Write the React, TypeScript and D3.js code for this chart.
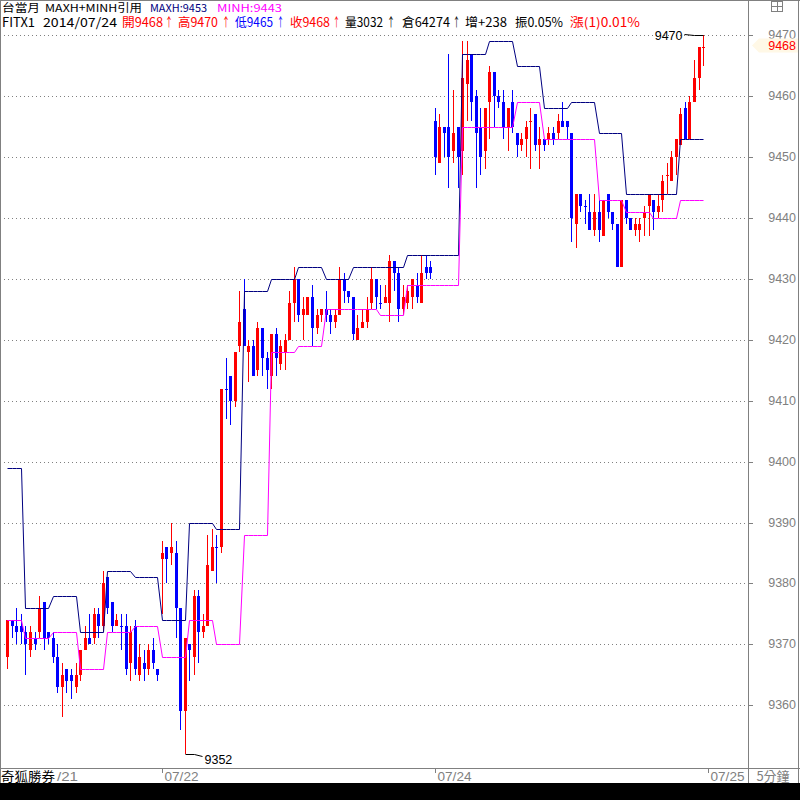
import * as d3 from "d3";

// 5-minute bars, TX front month, 07/21 (tail) .. 07/22 .. 07/24
const opens = [
  9368, 9374, 9373, 9373, 9372, 9369, 9371, 9372, 9377, 9372,
  9371, 9368, 9363, 9366, 9365, 9363, 9365, 9369, 9371, 9371,
  9375, 9373, 9381, 9377, 9373, 9373, 9373, 9367, 9373, 9365,
  9367, 9366, 9369, 9366, 9384, 9386, 9385, 9385, 9376, 9359,
  9370, 9368, 9378, 9372, 9373, 9382, 9386, 9386, 9412, 9414,
  9410, 9419, 9425, 9418, 9419, 9415, 9422, 9417, 9414, 9421,
  9416, 9418, 9420, 9426, 9430, 9424, 9424, 9427, 9422, 9424,
  9425, 9424, 9423, 9424, 9430, 9428, 9427, 9420, 9422, 9423,
  9426, 9430, 9426, 9426, 9426, 9433, 9431, 9425, 9426, 9427,
  9429, 9426, 9432, 9432, 9456, 9449, 9455, 9455, 9451, 9455,
  9451, 9462, 9467, 9460, 9455, 9451, 9459, 9464, 9460, 9459,
  9455, 9459, 9454, 9452, 9453, 9456, 9457, 9452, 9453, 9453,
  9454, 9454, 9456, 9456, 9454, 9439, 9444, 9442, 9441, 9438,
  9441, 9437, 9444, 9441, 9439, 9432, 9443, 9440, 9438, 9438,
  9440, 9442, 9443, 9441, 9443, 9447, 9446, 9450, 9452, 9458,
  9453, 9459, 9463, 9468,
];
const highs = [
  9374, 9374, 9376, 9375, 9373, 9373, 9372, 9378, 9377, 9372,
  9372, 9370, 9367, 9366, 9366, 9367, 9369, 9373, 9375, 9376,
  9376, 9382, 9381, 9377, 9375, 9375, 9375, 9373, 9374, 9370,
  9369, 9370, 9371, 9366, 9387, 9386, 9390, 9387, 9376, 9371,
  9370, 9379, 9379, 9375, 9388, 9389, 9388, 9412, 9417, 9414,
  9418, 9428, 9430, 9420, 9420, 9423, 9422, 9418, 9421, 9422,
  9420, 9421, 9428, 9432, 9430, 9427, 9427, 9429, 9425, 9425,
  9428, 9425, 9425, 9432, 9431, 9428, 9427, 9424, 9425, 9427,
  9432, 9430, 9429, 9429, 9434, 9433, 9432, 9429, 9429, 9430,
  9431, 9434, 9434, 9433, 9458, 9457, 9455, 9467, 9461, 9455,
  9469, 9469, 9467, 9461, 9458, 9458, 9465, 9464, 9461, 9461,
  9458, 9461, 9454, 9454, 9456, 9458, 9457, 9455, 9453, 9455,
  9455, 9457, 9459, 9456, 9454, 9444, 9444, 9443, 9444, 9444,
  9443, 9443, 9444, 9441, 9439, 9443, 9443, 9440, 9440, 9440,
  9442, 9444, 9443, 9444, 9447, 9449, 9451, 9453, 9458, 9459,
  9460, 9466, 9468, 9470,
];
const lows = [
  9366, 9371, 9370, 9370, 9365, 9368, 9369, 9371, 9369, 9370,
  9367, 9362, 9358, 9362, 9361, 9362, 9364, 9369, 9370, 9370,
  9371, 9372, 9375, 9372, 9373, 9369, 9365, 9364, 9365, 9364,
  9364, 9365, 9366, 9364, 9375, 9380, 9383, 9371, 9356, 9352,
  9364, 9365, 9367, 9371, 9373, 9382, 9380, 9385, 9407, 9406,
  9409, 9418, 9419, 9413, 9414, 9414, 9414, 9412, 9412, 9414,
  9415, 9415, 9420, 9423, 9423, 9420, 9424, 9419, 9421, 9423,
  9423, 9421, 9422, 9424, 9426, 9426, 9420, 9420, 9422, 9422,
  9425, 9425, 9425, 9426, 9423, 9428, 9423, 9424, 9425, 9425,
  9426, 9426, 9430, 9430, 9447, 9449, 9450, 9445, 9449, 9445,
  9447, 9456, 9456, 9445, 9447, 9448, 9453, 9455, 9458, 9453,
  9451, 9454, 9450, 9451, 9450, 9448, 9451, 9448, 9451, 9452,
  9452, 9453, 9455, 9453, 9436, 9435, 9441, 9439, 9438, 9437,
  9436, 9437, 9440, 9438, 9432, 9432, 9439, 9438, 9437, 9436,
  9437, 9437, 9438, 9440, 9441, 9444, 9446, 9447, 9452, 9453,
  9453, 9459, 9461, 9465,
];
const closes = [
  9374, 9373, 9372, 9372, 9370, 9372, 9370, 9376, 9371, 9371,
  9368, 9363, 9365, 9364, 9364, 9365, 9369, 9371, 9370, 9375,
  9373, 9380, 9376, 9373, 9374, 9373, 9366, 9372, 9366, 9368,
  9366, 9369, 9367, 9365, 9385, 9384, 9386, 9376, 9359, 9371,
  9369, 9378, 9372, 9373, 9383, 9386, 9386, 9412, 9412, 9410,
  9418, 9423, 9419, 9419, 9414, 9422, 9417, 9415, 9421, 9417,
  9419, 9420, 9426, 9430, 9424, 9425, 9427, 9422, 9424, 9425,
  9424, 9423, 9424, 9430, 9428, 9427, 9421, 9422, 9423, 9425,
  9430, 9427, 9426, 9427, 9433, 9431, 9425, 9427, 9428, 9430,
  9427, 9431, 9431, 9431, 9450, 9455, 9454, 9450, 9454, 9450,
  9463, 9466, 9459, 9454, 9450, 9458, 9464, 9460, 9459, 9455,
  9458, 9455, 9452, 9453, 9455, 9456, 9452, 9453, 9452, 9454,
  9453, 9456, 9455, 9455, 9440, 9444, 9442, 9442, 9438, 9441,
  9438, 9443, 9441, 9439, 9432, 9443, 9440, 9438, 9439, 9439,
  9441, 9444, 9441, 9442, 9446, 9447, 9450, 9453, 9457, 9453,
  9459, 9463, 9468, 9468,
];
// doji bars (open == close) that are drawn in the "up" colour
const redDoji = [115, 145, 153];

// MAXH / MINH come from the 30-minute bars: one value per 6 bars
// (first entry covers the 4 bars before the first 30-minute boundary)
const maxhSteps = [
  9399, 9376, 9378, 9372, 9382, 9381, 9374, 9390, 9389, 9428,
  9430, 9432, 9430, 9432, 9432, 9434, 9434, 9467, 9469, 9465,
  9458, 9459, 9454, 9444, 9444, 9453,
];
const minhSteps = [
  9374, 9371, 9372, 9366, 9372, 9373, 9368, 9374, 9370, 9388,
  9418, 9419, 9425, 9425, 9424, 9429, 9429, 9455, 9455, 9459,
  9453, 9453, 9443, 9441, 9440, 9443,
];

const yTicks = [9470, 9460, 9450, 9440, 9430, 9420, 9410, 9400, 9390, 9380, 9370, 9360];
const dateLabels = ["07/22", "07/24", "07/25"];
const dateBars = [34, 94, 154];

const RED = "#ff0000";
const BLUE = "#0000ff";
const NAVY = "#000080";
const MAGENTA = "#ff00ff";
const GRAY = "#808080";
const FONT = "'Liberation Sans', 'Noto Sans CJK TC', sans-serif";
const CJK = "'Noto Sans CJK TC', 'Liberation Sans', sans-serif";

// header text runs: [text, colour, x, width]
const header1: [string, string, number, number][] = [
  ["台當月", "#000", 2, 38],
  ["MAXH+MINH引用", "#000", 45, 97],
  [`MAXH:${maxhSteps[maxhSteps.length - 1]}`, NAVY, 150, 57],
  [`MINH:${minhSteps[minhSteps.length - 1]}`, MAGENTA, 217, 65],
];

const stepIndex = (i: number) => (i < 4 ? 0 : Math.floor((i - 4) / 6) + 1);

export default function App() {
  const n = opens.length;
  const last = n - 1;
  const PLOT_R = 748;
  const PLOT_B = 768;
  const ROW_B = 783;

  const x = d3.scaleLinear().domain([0, last]).range([7.3, 703.1]);
  const y = d3.scaleLinear().domain([9360, 9470]).range([705.3, 35.3]);
  const py = (v: number) => Math.round(y(v)) + 0.5;
  const px = (i: number) => Math.round(x(i));

  const idx = d3.range(n);
  const maxh = idx.map((i) => maxhSteps[stepIndex(i)]);
  const minh = idx.map((i) => minhSteps[stepIndex(i)]);
  const line = d3
    .line<number>()
    .x((_, i) => px(i) + 0.5)
    .y((v) => py(v));

  const hiIdx = d3.maxIndex(highs);
  const loIdx = d3.minIndex(lows);
  const hiX = px(hiIdx) + 0.5;
  const hiY = py(highs[hiIdx]);
  const loX = px(loIdx) + 0.5;
  const loY = py(lows[loIdx]);

  const o = opens[last], h = highs[last], l = lows[last], c = closes[last];
  const prevC = closes[last - 1];
  const header2: [string, string, number, number][] = [
    ["FITX1", "#000", 2, 33],
    ["2014/07/24", "#000", 43, 74],
    [`開${o}`, RED, 122, 41],
    ["↑", RED, 165, 8],
    [`高${h}`, RED, 178, 40],
    ["↑", RED, 222, 8],
    [`低${l}`, BLUE, 235, 38],
    ["↑", BLUE, 277, 7],
    [`收${c}`, RED, 290, 40],
    ["↑", RED, 333, 7],
    ["量3032", "#000", 345, 38],
    ["↑", "#000", 387, 8],
    ["倉64274", "#000", 402, 48],
    ["↑", "#000", 453, 7],
    ["增+238", "#000", 465, 42],
    ["振0.05%", "#000", 515, 48],
    [`漲(${c - prevC + 1})0.01%`, RED, 570, 70],
  ];

  const tagY = Math.round(y(c)) - 1.5;

  return (
    <>
      <style>{`body{margin:0;background:#fff}`}</style>
      <svg width={800} height={800} style={{ display: "block" }} fontFamily={FONT}>
        <rect x={0} y={0} width={800} height={800} fill="#fff" />

        {/* dotted price grid and right-axis ticks */}
        {yTicks.map((t) => (
          <g key={t}>
            <line x1={0} x2={PLOT_R} y1={py(t)} y2={py(t)} stroke={GRAY} strokeDasharray="1,3" />
            <line x1={PLOT_R} x2={PLOT_R + 5} y1={py(t)} y2={py(t)} stroke={GRAY} />
            <text x={796} y={py(t) + 3.5} textAnchor="end" fontSize={12.5} fill={GRAY}>
              {t}
            </text>
          </g>
        ))}

        {/* candles */}
        <g shapeRendering="crispEdges">
          {idx.map((i) => {
            const up = closes[i] > opens[i] || (closes[i] === opens[i] && redDoji.includes(i));
            const col = up ? RED : BLUE;
            const cx = px(i);
            const top = Math.round(y(Math.max(opens[i], closes[i])));
            const bot = Math.round(y(Math.min(opens[i], closes[i])));
            return (
              <g key={i}>
                <rect x={cx} y={Math.round(y(highs[i]))} width={1} height={Math.max(1, Math.round(y(lows[i])) - Math.round(y(highs[i])))} fill={col} />
                <rect x={cx - 1} y={top} width={3} height={Math.max(1, bot - top)} fill={col} />
              </g>
            );
          })}
        </g>

        {/* MAXH / MINH */}
        <path d={line(maxh) || ""} fill="none" stroke={NAVY} strokeWidth={1} />
        <path d={line(minh) || ""} fill="none" stroke={MAGENTA} strokeWidth={1} />

        {/* extreme labels */}
        <polyline points={`${hiX},${hiY} ${hiX - 9},${hiY} ${hiX - 19},${hiY - 1}`} fill="none" stroke="#000" />
        <text x={hiX - 21} y={hiY + 4.5} textAnchor="end" fontSize={12.5} fill="#000">
          {highs[hiIdx]}
        </text>
        <polyline points={`${loX},${loY} ${loX + 9},${loY} ${loX + 17},${loY + 2}`} fill="none" stroke="#000" />
        <text x={loX + 19} y={loY + 9} fontSize={12.5} fill="#000">
          {lows[loIdx]}
        </text>

        {/* header */}
        {header1.map(([t, col, tx, w], k) => (
          <text key={k} x={tx} y={11.5} fontSize={11} fill={col} fontFamily={CJK} textLength={w} lengthAdjust="spacingAndGlyphs">
            {t}
          </text>
        ))}
        {header2.map(([t, col, tx, w], k) => (
          <text key={k} x={tx} y={26.5} fontSize={12.5} fill={col} fontFamily={CJK} textLength={w} lengthAdjust="spacingAndGlyphs">
            {t}
          </text>
        ))}

        {/* last price tag */}
        <path d={`M752,${tagY} L759,${tagY - 7} H798 V${tagY + 7} H759 Z`} fill="#fff8e6" />
        <text x={796} y={tagY + 4.5} textAnchor="end" fontSize={12.5} fill={RED}>
          {c}
        </text>

        {/* frame */}
        <g stroke={GRAY} shapeRendering="crispEdges">
          <line x1={0} x2={800} y1={0.5} y2={0.5} />
          <line x1={0.5} x2={0.5} y1={0} y2={ROW_B} />
          <line x1={PLOT_R + 0.5} x2={PLOT_R + 0.5} y1={0} y2={ROW_B} />
          <line x1={798.5} x2={798.5} y1={0} y2={ROW_B} />
          <line x1={0} x2={800} y1={PLOT_B + 0.5} y2={PLOT_B + 0.5} />
        </g>

        {/* window icon */}
        <g stroke={GRAY} fill="none" shapeRendering="crispEdges">
          <rect x={771.5} y={1.5} width={11} height={10} />
          <line x1={771.5} x2={782.5} y1={6.5} y2={6.5} />
          <line x1={777.5} x2={777.5} y1={1.5} y2={11.5} />
        </g>

        {/* date row */}
        <g fill={GRAY} fontSize={12}>
          {/* only the tail of the 07/21 label shows beside the brand box */}
          <text x={57} y={781} textLength={21} lengthAdjust="spacingAndGlyphs">/21</text>
          {dateLabels.map((d, k) => {
            const dx = px(dateBars[k]) + 0.5;
            return (
              <g key={d}>
                <line x1={dx} x2={dx} y1={PLOT_B + 1} y2={PLOT_B + 5} stroke={GRAY} />
                <text x={dx + 2} y={781} textLength={34} lengthAdjust="spacingAndGlyphs">
                  {d}
                </text>
              </g>
            );
          })}
        </g>
        <text x={1} y={781} fontSize={13} fill="#000" fontFamily={CJK} textLength={54} lengthAdjust="spacingAndGlyphs">
          奇狐勝券
        </text>
        <text x={773} y={781} fontSize={13} fill={GRAY} fontFamily={CJK} textAnchor="middle">
          5分鐘
        </text>

        <rect x={0} y={ROW_B} width={800} height={800 - ROW_B} fill="#000" />
      </svg>
    </>
  );
}
